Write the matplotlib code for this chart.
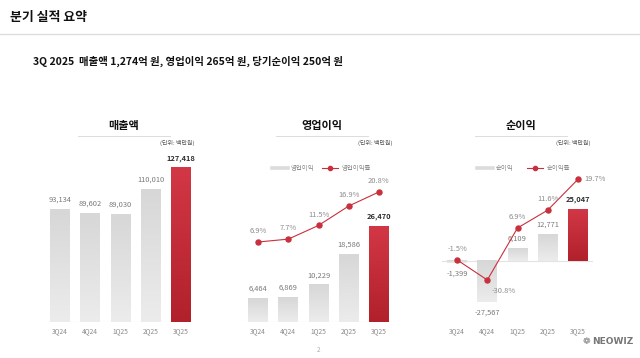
import numpy as np
import matplotlib.pyplot as plt
from matplotlib.colors import LinearSegmentedColormap
from matplotlib.lines import Line2D

plt.rcParams['font.family'] = ['Noto Sans CJK KR', 'DejaVu Sans']

# 데이터 (단위: 백만원)
quarters = ['3Q24', '4Q24', '1Q25', '2Q25', '3Q25']
revenue = [93134, 89602, 89030, 110010, 127418]
op_profit = [6464, 6869, 10229, 18586, 26470]
op_margin = [6.9, 7.7, 11.5, 16.9, 20.8]
net_profit = [-1399, -27567, 6109, 12771, 25047]
net_margin = [-1.5, -30.8, 6.9, 11.6, 19.7]

W, H = 640, 358
GRAY_TOP, GRAY_BOT = '#d7d7d7', '#ececec'
RED_TOP, RED_BOT = '#d23746', '#b1212b'
LINE_RED = '#c9303d'


def rect(x0, y0, x1, y1):
    # 픽셀 좌표 -> figure 좌표
    return [x0 / W, 1 - y1 / H, (x1 - x0) / W, (y1 - y0) / H]


def fx(x):
    return x / W


def fy(y):
    return 1 - y / H


def squash(thr, k):
    # 음수 구간을 압축하는 스케일
    def fwd(v):
        v = np.asarray(v, dtype=float)
        return np.where(v >= thr, v, thr + (v - thr) * k)

    def inv(u):
        u = np.asarray(u, dtype=float)
        return np.where(u >= thr, u, thr + (u - thr) / k)
    return fwd, inv


def gradient_bars(ax, bars):
    trans = ax.transData + ax.transAxes.inverted()
    grad = np.linspace(0, 1, 128).reshape(-1, 1)
    n = len(bars)
    for i, b in enumerate(bars):
        x0, y0 = b.get_x(), b.get_y()
        x1, y1 = x0 + b.get_width(), y0 + b.get_height()
        (ax0, ay0) = trans.transform((x0, min(y0, y1)))
        (ax1, ay1) = trans.transform((x1, max(y0, y1)))
        if i == n - 1:
            cmap = LinearSegmentedColormap.from_list('r', [RED_BOT, RED_TOP])
        else:
            cmap = LinearSegmentedColormap.from_list('g', [GRAY_BOT, GRAY_TOP])
        ax.imshow(grad, extent=(ax0, ax1, ay0, ay1), transform=ax.transAxes,
                  aspect='auto', origin='lower', cmap=cmap, zorder=1)
        b.set_alpha(0)


def panel(x0, x1, values, title, ylim, yscale=None):
    ax = fig.add_axes(rect(x0, 150, x1, 322))
    x = np.arange(len(values))
    if yscale is not None:
        ax.set_yscale('function', functions=yscale)
    bars = ax.bar(x, values, width=0.66, color=GRAY_TOP, zorder=1)
    ax.set_xlim(-0.5, len(values) - 0.5)
    ax.set_ylim(*ylim)
    ax.axhline(0, color='#e3e3e3', lw=0.8, zorder=0)
    for s in ax.spines.values():
        s.set_visible(False)
    ax.set_yticks([])
    ax.set_xticks(x, quarters)
    ax.tick_params(axis='x', length=0, pad=3.4, labelsize=4.8, labelcolor='#8a8a8a')
    ax.patch.set_alpha(0)
    gradient_bars(ax, bars)
    for i, v in enumerate(values):
        last = i == len(values) - 1
        off = 4 if v >= 0 else -5
        ax.annotate(f'{v:,}', (i, v), xytext=(0, off), textcoords='offset points',
                    ha='center', va='bottom' if v >= 0 else 'top',
                    fontsize=5.4, color='#2e2e2e' if last else '#7a7a7a',
                    fontweight='bold' if last else 'normal', annotation_clip=False)
    # 제목, 밑줄, 단위
    cx = (x0 + x1) / 2 + 3
    fig.text(fx(cx), fy(126), title, ha='center', va='center', fontsize=8,
             fontweight='bold', color='#111111')
    fig.add_artist(Line2D([fx(cx - 46), fx(cx + 46)], [fy(135.5), fy(135.5)],
                          color='#dcdcdc', lw=0.7))
    fig.text(fx(x1 - 2), fy(143), '(단위: 백만원)', ha='right', va='center',
             fontsize=4.3, color='#555555')
    return ax


def rate_line(ax, rates, ylim, offsets, yscale=None):
    ax2 = ax.twinx()
    if yscale is not None:
        ax2.set_yscale('function', functions=yscale)
    x = np.arange(len(rates))
    ax2.plot(x, rates, color=LINE_RED, lw=0.8, marker='o', ms=3.6, zorder=3)
    ax2.set_ylim(*ylim)
    ax2.set_yticks([])
    for s in ax2.spines.values():
        s.set_visible(False)
    for i, r in enumerate(rates):
        dx, dy, ha, va = offsets[i]
        ax2.annotate(f'{r}%', (i, r), xytext=(dx, dy), textcoords='offset points',
                     ha=ha, va=va, fontsize=5.4, color='#8c8c8c', annotation_clip=False)
    return ax2


def legend(x, y, bar_label, line_label):
    fig.add_artist(Line2D([fx(x), fx(x + 16)], [fy(y), fy(y)], color='#dcdcdc', lw=2.6))
    fig.text(fx(x + 19), fy(y), bar_label, ha='left', va='center', fontsize=4.6,
             color='#888888')
    lx = x + 50
    fig.add_artist(Line2D([fx(lx), fx(lx + 16)], [fy(y), fy(y)], color=LINE_RED, lw=0.8))
    fig.add_artist(Line2D([fx(lx + 8)], [fy(y)], color=LINE_RED, marker='o', ms=3))
    fig.text(fx(lx + 20), fy(y), line_label, ha='left', va='center', fontsize=4.6,
             color='#888888')


fig = plt.figure(figsize=(6.4, 3.58), dpi=100)
fig.patch.set_facecolor('white')

# 헤더
fig.text(fx(10), fy(17.5), '분기 실적 요약', ha='left', va='center', fontsize=9.3,
         fontweight='bold', color='#111111')
fig.add_artist(Line2D([0, 1], [fy(33.5), fy(33.5)], color='#dddddd', lw=1))
fig.text(fx(33), fy(61), '3Q 2025  매출액 1,274억 원, 영업이익 265억 원, 당기순이익 250억 원',
         ha='left', va='center', fontsize=7.5, fontweight='bold', color='#111111')

# 매출액
top1 = max(revenue) * (322 - 150) / (322 - 168)
panel(45, 196, revenue, '매출액', (0, top1))

# 영업이익
top2 = max(op_profit) * (322 - 150) / (322 - 226)
ax_op = panel(243, 394, op_profit, '영업이익', (0, top2))
ppx = (242 - 192) / (op_margin[-1] - op_margin[0])
zero2 = 242 + op_margin[0] * ppx
rate_line(ax_op, op_margin, (-(322 - zero2) / ppx, (zero2 - 150) / ppx),
          [(0, 5, 'center', 'bottom')] * 5)
legend(272, 168, '영업이익', '영업이익률')

# 순이익
bpx = (261 - 209) / max(net_profit)
kb = 0.72
bar_scale = squash(0, kb)
ylim3 = (-(322 - 261) / bpx / kb, (261 - 150) / bpx)
ax_net = panel(442, 593, net_profit, '순이익', ylim3, yscale=bar_scale)
rpx = 3.8
zero3 = 228 + 6.9 * rpx
line_scale = squash(-2, 0.166)
lo = -2 + (-(322 - zero3) / rpx + 2) / 0.166
rate_line(ax_net, net_margin, (lo, (zero3 - 150) / rpx),
          [(0, 5, 'center', 'bottom'), (3, -5, 'left', 'top'),
           (0, 5, 'center', 'bottom'), (0, 5, 'center', 'bottom'),
           (5, 0, 'left', 'center')], yscale=line_scale)
legend(477, 168, '순이익', '순이익률')

# 푸터
fig.text(fx(319), fy(350), '2', ha='center', va='center', fontsize=4.5, color='#aaaaaa')
fig.text(fx(586), fy(342), '❁', ha='center', va='center', fontsize=6.5,
         color='#777777', family='DejaVu Sans')
fig.text(fx(592), fy(342), 'NEOWIZ', ha='left', va='center', fontsize=6.5,
         fontweight='bold', color='#777777', family='DejaVu Sans')

fig.savefig('out.png', dpi=100)
